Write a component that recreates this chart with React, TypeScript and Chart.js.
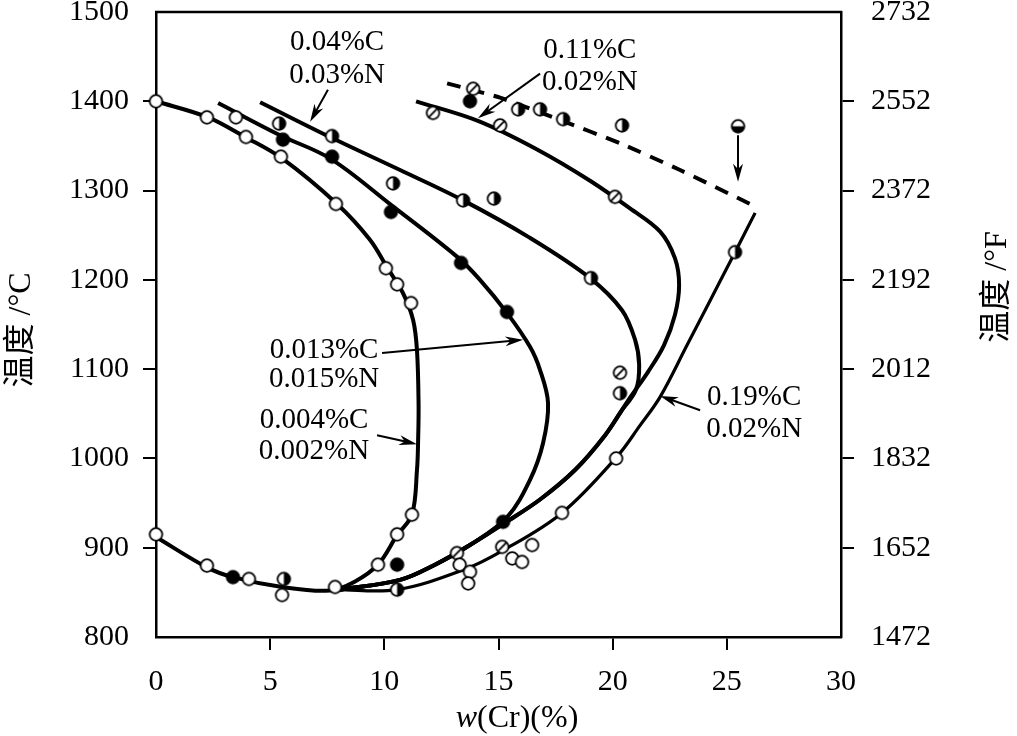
import React, { useEffect, useRef } from "react";
import { Chart, registerables } from "chart.js";
Chart.register(...registerables);

// ---- tick labels ----
const xTicks = [0, 5, 10, 15, 20, 25, 30];
const yTicksC = [800, 900, 1000, 1100, 1200, 1300, 1400, 1500];
const yTicksF = [1472, 1652, 1832, 2012, 2192, 2372, 2552, 2732];

// ---- curves: [w(Cr) %, T °C] ----
const curve004C = [
  [0, 1400], [2.28, 1382], [3.9, 1360], [5.52, 1336], [7.93, 1285], [9.37, 1245],
  [10.12, 1214], [10.82, 1185], [11.26, 1155], [11.43, 1121], [11.5, 1060], [11.48, 1021],
  [11.43, 987], [11.21, 937], [10.56, 914], [9.72, 881], [8.7, 862], [7.6, 852],
  [5.52, 856], [3.37, 867], [2.23, 878], [0, 912],
];
const curve013C = [
  [2.72, 1398], [5.43, 1362], [7.62, 1336], [10.29, 1284], [13.18, 1226], [14.19, 1200],
  [15.37, 1163], [16.38, 1125], [16.82, 1099], [17.17, 1062], [16.95, 1017], [16.38, 976],
  [15.37, 934], [13.75, 903], [12.22, 881], [10.69, 864], [8.06, 853],
];
const curve04C = [
  [4.56, 1399], [7.62, 1360], [10.69, 1323], [13.45, 1289], [16.38, 1247], [19.01, 1202],
  [20.41, 1166], [20.98, 1133], [21.16, 1105], [21.02, 1077], [20.32, 1051], [19.67, 1026],
  [18.35, 987], [16.82, 954], [15.29, 928], [13.75, 903], [12.22, 881], [10.69, 864], [8.06, 853],
];
const curve011C = [
  [11.39, 1400], [14.1, 1378], [16.69, 1346], [19.01, 1311], [20.76, 1280], [22.08, 1254],
  [22.73, 1224], [22.91, 1194], [22.73, 1161], [22.25, 1127], [21.55, 1097], [20.76, 1068],
  [19.67, 1026], [18.35, 987], [16.82, 954], [15.29, 928], [13.75, 903], [12.22, 881],
  [10.69, 864], [8.06, 853],
];
const curve019C = [
  [7.93, 853], [10.56, 853], [13.45, 875], [15.2, 897], [17.78, 939], [20.19, 1002],
  [21.2, 1037], [22.08, 1069], [23.26, 1127], [24.27, 1177], [25.36, 1231], [26.24, 1275],
];
const dashedCurve = [
  [12.75, 1420], [15.07, 1404], [17.7, 1379], [20.32, 1353], [22.95, 1323], [26.02, 1285],
];

// ---- measured points ----
const openPts = [
  [0, 1400], [2.23, 1382], [3.5, 1382], [3.94, 1360], [5.47, 1338], [7.88, 1285],
  [10.07, 1213], [10.56, 1195], [11.17, 1174], [0, 915], [2.23, 880], [4.07, 865],
  [5.52, 847], [7.84, 856], [9.72, 881], [10.56, 915], [11.21, 937], [13.3, 881],
  [13.75, 873], [13.67, 860], [15.6, 888], [16.03, 884], [16.47, 903], [20.15, 1000],
  [17.78, 939],
];
const filledPts = [
  [3.37, 867], [10.56, 881], [5.56, 1357], [7.71, 1338], [10.29, 1276], [13.36, 1219],
  [15.37, 1164], [15.2, 929], [13.75, 1400],
];
const halfPts = [
  [5.39, 1375], [7.71, 1361], [10.38, 1308], [13.45, 1289], [14.8, 1291], [19.05, 1202],
  [5.6, 865], [10.56, 853], [15.86, 1391], [16.82, 1391], [17.83, 1380], [20.41, 1373],
  [20.32, 1073], [25.36, 1231],
];
const slashPts = [
  [12.13, 1387], [13.89, 1414], [15.07, 1373], [20.1, 1293], [20.32, 1096], [13.18, 894],
  [15.16, 901],
];
const halfBottomPts = [[25.49, 1372]];

// ---- annotations (text) ----
const annoText = [
  ["0.04%C", "0.03%N"],
  ["0.11%C", "0.02%N"],
  ["0.013%C", "0.015%N"],
  ["0.004%C", "0.002%N"],
  ["0.19%C", "0.02%N"],
];
// layout of annotations in data coordinates
const annoLayout = [
  { x: 7.93, y1: 1466, y2: 1429, from: [7.53, 1413], to: [6.75, 1377] },
  { x: 19.0, y1: 1457, y2: 1421, from: [16.82, 1431], to: [14.1, 1381] },
  { x: 7.36, y1: 1121, y2: 1088, from: [9.9, 1118], to: [16.08, 1133] },
  { x: 6.92, y1: 1043, y2: 1008, from: [9.68, 1026], to: [11.43, 1016] },
  { x: 26.2, y1: 1068, y2: 1032, from: [23.83, 1054], to: [22.08, 1070] },
];
const pointArrow = { from: [25.49, 1362], to: [25.49, 1310] };

const SERIF = "'Liberation Serif', 'Times New Roman', serif";
const CJK = "'Liberation Serif', 'Noto Sans CJK SC', serif";

function makeMarker(kind: string): HTMLCanvasElement {
  const c = document.createElement("canvas");
  c.width = 17;
  c.height = 17;
  const g = c.getContext("2d") as CanvasRenderingContext2D;
  const cx = 8.5, cy = 8.5, r = 6.3;
  g.beginPath();
  g.arc(cx, cy, r, 0, Math.PI * 2);
  g.fillStyle = kind === "filled" ? "#000" : "#fff";
  g.fill();
  g.fillStyle = "#000";
  g.strokeStyle = "#000";
  if (kind === "half") {
    g.beginPath();
    g.moveTo(cx, cy);
    g.arc(cx, cy, r, -Math.PI / 2, Math.PI / 2);
    g.closePath();
    g.fill();
  }
  if (kind === "halfBottom") {
    g.beginPath();
    g.moveTo(cx, cy);
    g.arc(cx, cy, r, 0, Math.PI);
    g.closePath();
    g.fill();
  }
  if (kind === "slash") {
    g.lineWidth = 1.8;
    g.beginPath();
    g.moveTo(cx - r * 0.72, cy + r * 0.72);
    g.lineTo(cx + r * 0.72, cy - r * 0.72);
    g.stroke();
  }
  g.lineWidth = 1.8;
  g.beginPath();
  g.arc(cx, cy, r, 0, Math.PI * 2);
  g.stroke();
  return c;
}

function drawArrow(ctx: CanvasRenderingContext2D, x1: number, y1: number, x2: number, y2: number) {
  const ang = Math.atan2(y2 - y1, x2 - x1);
  const hl = 18, hw = 5;
  ctx.save();
  ctx.strokeStyle = "#000";
  ctx.fillStyle = "#000";
  ctx.lineWidth = 2;
  ctx.beginPath();
  ctx.moveTo(x1, y1);
  ctx.lineTo(x2 - Math.cos(ang) * hl * 0.6, y2 - Math.sin(ang) * hl * 0.6);
  ctx.stroke();
  ctx.beginPath();
  ctx.moveTo(x2, y2);
  ctx.lineTo(x2 - Math.cos(ang) * hl - Math.sin(ang) * hw, y2 - Math.sin(ang) * hl + Math.cos(ang) * hw);
  ctx.lineTo(x2 - Math.cos(ang) * hl * 0.7, y2 - Math.sin(ang) * hl * 0.7);
  ctx.lineTo(x2 - Math.cos(ang) * hl + Math.sin(ang) * hw, y2 - Math.sin(ang) * hl - Math.cos(ang) * hw);
  ctx.closePath();
  ctx.fill();
  ctx.restore();
}

const toXY = (arr: number[][]) => arr.map(([x, y]) => ({ x, y }));

export default function App() {
  const ref = useRef<HTMLCanvasElement | null>(null);

  useEffect(() => {
    if (!ref.current) return;
    const mOpen = makeMarker("open");
    const mFilled = makeMarker("filled");
    const mHalf = makeMarker("half");
    const mSlash = makeMarker("slash");
    const mHalfB = makeMarker("halfBottom");

    const lineDs = (data: number[][], width: number, dash: number[] = [], tension = 0.35) => ({
      type: "scatter" as const,
      data: toXY(data),
      showLine: true,
      borderColor: "#000",
      borderWidth: width,
      borderDash: dash,
      tension,
      pointRadius: 0,
      fill: false,
      order: 2,
      clip: false as any,
    });
    const markerDs = (data: number[][], img: HTMLCanvasElement) => ({
      type: "scatter" as const,
      data: toXY(data),
      showLine: false,
      pointStyle: img,
      pointRadius: 7,
      order: 0,
      clip: false as any,
    });

    const framePlugin = {
      id: "framePlugin",
      afterDatasetsDraw(chart: any) {
        const ctx = chart.ctx as CanvasRenderingContext2D;
        const xs = chart.scales.x;
        const ys = chart.scales.y;
        const ca = chart.chartArea;
        ctx.save();
        ctx.strokeStyle = "#000";
        ctx.lineWidth = 2.5;
        ctx.beginPath();
        ctx.moveTo(ca.left - 1, ca.top);
        ctx.lineTo(ca.right + 1, ca.top);
        ctx.stroke();

        // annotations
        ctx.fillStyle = "#000";
        ctx.font = `29px ${SERIF}`;
        ctx.textAlign = "center";
        ctx.textBaseline = "middle";
        annoLayout.forEach((a, i) => {
          const px = xs.getPixelForValue(a.x);
          ctx.fillText(annoText[i][0], px, ys.getPixelForValue(a.y1));
          ctx.fillText(annoText[i][1], px, ys.getPixelForValue(a.y2));
          drawArrow(
            ctx,
            xs.getPixelForValue(a.from[0]), ys.getPixelForValue(a.from[1]),
            xs.getPixelForValue(a.to[0]), ys.getPixelForValue(a.to[1])
          );
        });
        drawArrow(
          ctx,
          xs.getPixelForValue(pointArrow.from[0]), ys.getPixelForValue(pointArrow.from[1]),
          xs.getPixelForValue(pointArrow.to[0]), ys.getPixelForValue(pointArrow.to[1])
        );

        // axis titles
        ctx.font = `32px ${CJK}`;
        ctx.save();
        ctx.translate(22, 330);
        ctx.rotate(-Math.PI / 2);
        ctx.fillText("温度 /°C", 0, 0);
        ctx.restore();
        ctx.save();
        ctx.translate(998, 287);
        ctx.rotate(-Math.PI / 2);
        ctx.fillText("温度 /°F", 0, 0);
        ctx.restore();

        const italic = `italic 32px ${SERIF}`;
        const normal = `32px ${SERIF}`;
        ctx.font = italic;
        const w1 = ctx.measureText("w").width;
        ctx.font = normal;
        const w2 = ctx.measureText("(Cr)(%)").width;
        const cx = 517;
        const start = cx - (w1 + w2) / 2;
        ctx.textAlign = "left";
        ctx.font = italic;
        ctx.fillText("w", start, 719);
        ctx.font = normal;
        ctx.fillText("(Cr)(%)", start + w1, 719);
        ctx.restore();
      },
    };

    const tickFont = { family: SERIF, size: 30 };
    const endTickColor = (n: number) => (c: any) =>
      c.index === 0 || c.index === n - 1 ? "rgba(0,0,0,0)" : "#000";
    const gridCfg = (n: number) => ({
      drawOnChartArea: false,
      drawTicks: true,
      tickLength: 13,
      color: "#000",
      tickColor: endTickColor(n),
      lineWidth: 2,
    });
    const borderCfg = { display: true, color: "#000", width: 2.5 };
    const fmt = (v: any) => String(v);
    const zeroPad = (s: any) => { s.paddingTop = 0; s.paddingBottom = 0; s.paddingLeft = 0; s.paddingRight = 0; };

    const chart = new Chart(ref.current, {
      type: "scatter",
      data: {
        datasets: [
          markerDs(openPts, mOpen),
          markerDs(filledPts, mFilled),
          markerDs(halfPts, mHalf),
          markerDs(slashPts, mSlash),
          markerDs(halfBottomPts, mHalfB),
          lineDs(curve004C, 4),
          lineDs(curve013C, 4),
          lineDs(curve04C, 4),
          lineDs(curve011C, 4),
          lineDs(curve019C, 3.2),
          lineDs(dashedCurve, 4, [14, 10], 0.2),
        ] as any,
      },
      options: {
        responsive: false,
        animation: false,
        devicePixelRatio: 1,
        layout: { autoPadding: false, padding: { top: 12, left: 0, right: 0, bottom: 0 } } as any,
        plugins: { legend: { display: false }, tooltip: { enabled: false }, title: { display: false } },
        scales: {
          x: {
            type: "linear",
            min: 0,
            max: 30,
            afterBuildTicks: (s: any) => { s.ticks = xTicks.map((v) => ({ value: v })); },
            afterFit: (s: any) => { s.height = 99; zeroPad(s); },
            ticks: { font: tickFont, color: "#000", padding: 14, maxRotation: 0, autoSkip: false, callback: fmt },
            grid: gridCfg(xTicks.length),
            border: borderCfg,
          },
          y: {
            type: "linear",
            position: "left",
            min: 800,
            max: 1500,
            afterBuildTicks: (s: any) => { s.ticks = yTicksC.map((v) => ({ value: v })); },
            afterFit: (s: any) => { s.width = 156; zeroPad(s); },
            ticks: { font: tickFont, color: "#000", padding: 14, autoSkip: false, callback: fmt },
            grid: gridCfg(yTicksC.length),
            border: borderCfg,
          },
          y2: {
            type: "linear",
            position: "right",
            min: 1472,
            max: 2732,
            afterBuildTicks: (s: any) => { s.ticks = yTicksF.map((v) => ({ value: v })); },
            afterFit: (s: any) => { s.width = 176; zeroPad(s); },
            ticks: { font: tickFont, color: "#000", padding: 17, autoSkip: false, callback: fmt },
            grid: gridCfg(yTicksF.length),
            border: borderCfg,
          },
        },
      } as any,
      plugins: [framePlugin],
    });
    return () => chart.destroy();
  }, []);

  return (
    <div style={{ position: "absolute", left: 0, top: 0, width: 1017, height: 736, background: "#fff" }}>
      <canvas ref={ref} width={1017} height={736} style={{ display: "block" }} />
    </div>
  );
}
